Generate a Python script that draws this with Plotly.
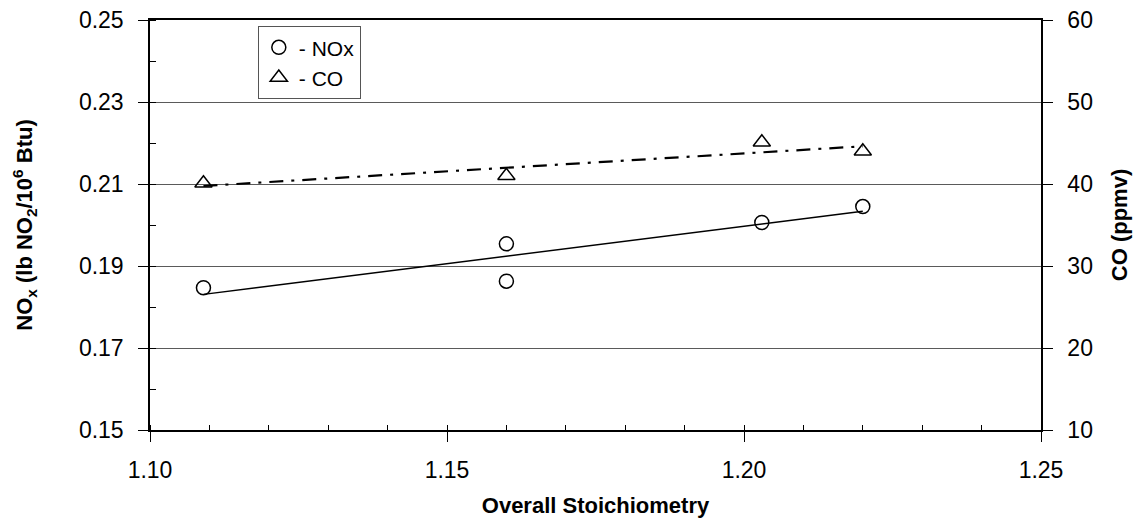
import numpy as np
import plotly.graph_objects as go

# Data
nox_x = [1.109, 1.160, 1.160, 1.203, 1.220]
nox_y = [0.1847, 0.1954, 0.1863, 0.2006, 0.2045]
co_x = [1.109, 1.160, 1.203, 1.220]
co_y = [40.1, 41.0, 45.1, 44.0]

x_ticks = [1.10, 1.15, 1.20, 1.25]
x_tick_labels = ["1.10", "1.15", "1.20", "1.25"]
nox_ticks = [0.15, 0.17, 0.19, 0.21, 0.23, 0.25]
nox_tick_labels = ["0.15", "0.17", "0.19", "0.21", "0.23", "0.25"]
co_ticks = [10, 20, 30, 40, 50, 60]

# Linear trend lines (least squares) over the data span
p_nox = np.polyfit(nox_x, nox_y, 1)
p_co = np.polyfit(co_x, co_y, 1)
tx_nox = [min(nox_x), max(nox_x)]
tx_co = [min(co_x), max(co_x)]

FONT = "Liberation Sans, Arial, sans-serif"
BLACK = "#000000"

fig = go.Figure()

fig.add_trace(go.Scatter(x=tx_nox, y=list(np.polyval(p_nox, tx_nox)), mode="lines",
                         line=dict(color=BLACK, width=1.5), showlegend=False, hoverinfo="skip"))
fig.add_trace(go.Scatter(x=tx_co, y=list(np.polyval(p_co, tx_co)), mode="lines", yaxis="y2",
                         line=dict(color=BLACK, width=2.2, dash="14px,8px,3px,8px"),
                         showlegend=False, hoverinfo="skip"))
fig.add_trace(go.Scatter(x=nox_x, y=nox_y, mode="markers", name="- NOx",
                         marker=dict(symbol="circle-open", size=14, color=BLACK,
                                     line=dict(width=1.5, color=BLACK))))
fig.add_trace(go.Scatter(x=co_x, y=co_y, mode="markers", name="- CO", yaxis="y2",
                         marker=dict(symbol="triangle-up-open", size=15, color=BLACK,
                                     line=dict(width=1.5, color=BLACK))))

tickfont = dict(family=FONT, size=23, color=BLACK)
titlefont = dict(family=FONT, size=22, color=BLACK, weight="bold")

fig.update_layout(
    width=1142, height=520,
    margin=dict(l=150, r=101, t=20, b=90, autoexpand=False),
    paper_bgcolor="white", plot_bgcolor="white",
    font=dict(family=FONT, color=BLACK),
    xaxis=dict(
        range=[1.10, 1.25], tickmode="array", tickvals=x_ticks, ticktext=x_tick_labels,
        ticks="outside", ticklen=10, tickwidth=1, tickcolor=BLACK, ticklabelstandoff=8,
        minor=dict(ticks="inside", dtick=0.01, ticklen=5, tickcolor=BLACK, tickwidth=1),
        showline=True, linecolor=BLACK, linewidth=1.8, mirror=True,
        showgrid=False, zeroline=False, tickfont=tickfont, automargin=False,
        title=dict(text="<b>Overall Stoichiometry</b>", font=titlefont, standoff=16),
    ),
    yaxis=dict(
        range=[0.15, 0.25], tickmode="array", tickvals=nox_ticks, ticktext=nox_tick_labels,
        ticks="outside", ticklen=10, tickwidth=1, tickcolor=BLACK, ticklabelstandoff=10,
        minor=dict(ticks="inside", dtick=0.01, ticklen=6, tickcolor=BLACK, tickwidth=1, showgrid=False),
        showline=True, linecolor=BLACK, linewidth=1.5, automargin=False,
        showgrid=True, gridcolor="#5a5a5a", gridwidth=1, zeroline=False, tickfont=tickfont,
        title=dict(text="<b>NO<sub>x</sub> (lb NO<sub>2</sub>/10<sup>6</sup> Btu)</b>",
                   font=titlefont, standoff=40),
    ),
    yaxis2=dict(
        range=[10, 60], tickmode="array", tickvals=co_ticks, overlaying="y", side="right",
        ticks="outside", ticklen=10, tickwidth=1, tickcolor=BLACK, ticklabelstandoff=10,
        showline=True, linecolor=BLACK, linewidth=1.5, automargin=False,
        showgrid=False, zeroline=False, tickfont=tickfont,
        title=dict(text="<b>CO (ppmv)</b>", font=titlefont, standoff=20),
    ),
    legend=dict(
        x=0.121, y=0.985, xanchor="left", yanchor="top",
        bgcolor="white", bordercolor="#555555", borderwidth=1,
        font=dict(family=FONT, size=21, color=BLACK),
        itemwidth=30, tracegroupgap=0,
    ),
    showlegend=True,
)

fig.write_html("out.html")
